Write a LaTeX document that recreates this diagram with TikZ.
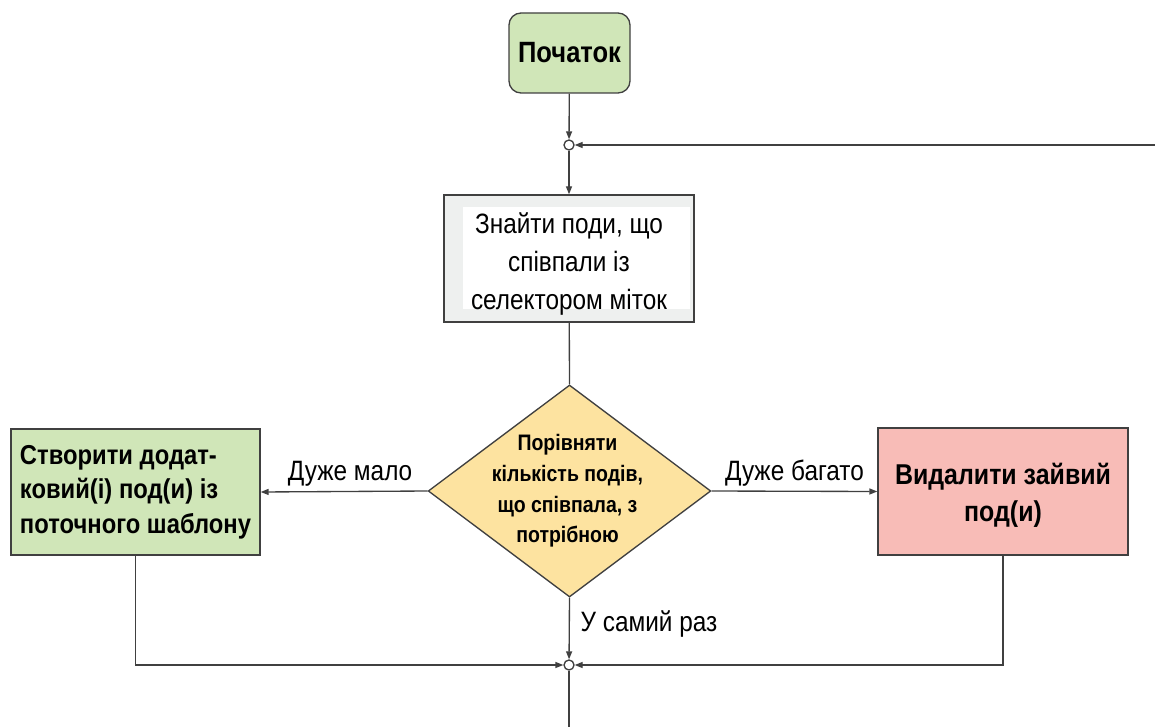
\documentclass[tikz,border=0pt]{standalone}
\usepackage{fontspec}
\setmainfont{Liberation Sans}[FakeStretch=0.87]
\usetikzlibrary{shapes.geometric,arrows.meta,positioning}
\definecolor{lineC}{HTML}{404040}
\definecolor{greenF}{HTML}{D0E6B8}
\definecolor{pinkF}{HTML}{F8BCB7}
\definecolor{yellowF}{HTML}{FDE3A0}
\definecolor{grayF}{HTML}{EEF0EF}
\begin{document}
\begin{tikzpicture}[x=0.75pt,y=-0.75pt,
  conn/.style={draw=lineC,line width=1pt},
  arr/.style={conn,-{Triangle[length=6pt,width=4.5pt]}},
  box/.style={draw=lineC,line width=1pt,rectangle,inner sep=0pt,align=center},
  junc/.style={circle,draw=lineC,fill=white,line width=1pt,minimum size=7.5pt,inner sep=0pt},
  elabel/.style={font=\fontsize{21}{24}\selectfont,inner sep=2pt}
]
\useasboundingbox (0,0) rectangle (1155,727);

\node[box,fill=greenF,rounded corners=9pt,minimum width=90.75pt,minimum height=60pt,
  font=\bfseries\fontsize{22}{26}\selectfont] (start) at (569.5,53) {Початок};

\node[junc] (j1) at (569,145) {};
\coordinate (rin) at (1155,145);

\node[box,fill=grayF,minimum width=187.5pt,minimum height=95.25pt,
  font=\fontsize{21}{28.5}\selectfont,
  path picture={\fill[white] ([xshift=14pt,yshift=-9pt]path picture bounding box.north west) rectangle ([xshift=-3pt,yshift=10pt]path picture bounding box.south east);}] (find) at (569,258.5)
  {\rule{0pt}{24pt}Знайти поди, що\\співпали із\\селектором міток};

\node[diamond,draw=lineC,line width=1pt,fill=yellowF,minimum width=212pt,minimum height=159pt,inner sep=0pt,
  label={[align=center,xshift=-1.5pt,font=\bfseries\fontsize{16.8}{23}\selectfont]center:Порівняти\\кількість подів,\\що співпала, з\\потрібною}] (cmp) at (569.5,491) {};

\node[box,fill=greenF,minimum width=186.75pt,minimum height=94.5pt,align=left,
  font=\bfseries\fontsize{20.5}{26}\selectfont] (create) at (135.5,492)
  {Створити додат-\\ковий(і) под(и) із\\поточного шаблону};

\node[box,fill=pinkF,minimum width=187.5pt,minimum height=95.25pt,
  font=\bfseries\fontsize{21.5}{27.75}\selectfont] (del) at (1003,491.5)
  {\rule{0pt}{22pt}Видалити зайвий\\под(и)};

\node[junc] (j2) at (569,665) {};
\coordinate (out) at (569,727);

\draw[arr] (start) -- (j1);
\draw[arr] (rin) -- (j1);
\draw[arr] (j1) -- (find);
\draw[conn] (find) -- (cmp.north);
\draw[arr] (cmp.west) -- node[elabel,above,yshift=1.5pt,xshift=4.5pt]{Дуже мало} (create.east);
\draw[arr] (cmp.east) -- node[elabel,above,yshift=1.5pt]{Дуже багато} (del.west);
\draw[arr] (cmp.south) -- node[elabel,right,pos=0.42,xshift=6pt]{У самий раз} (j2);
\draw[arr] (create.south) |- (j2);
\draw[arr] (del.south) |- (j2);
\draw[conn] (j2) -- (out);
\end{tikzpicture}
\end{document}
